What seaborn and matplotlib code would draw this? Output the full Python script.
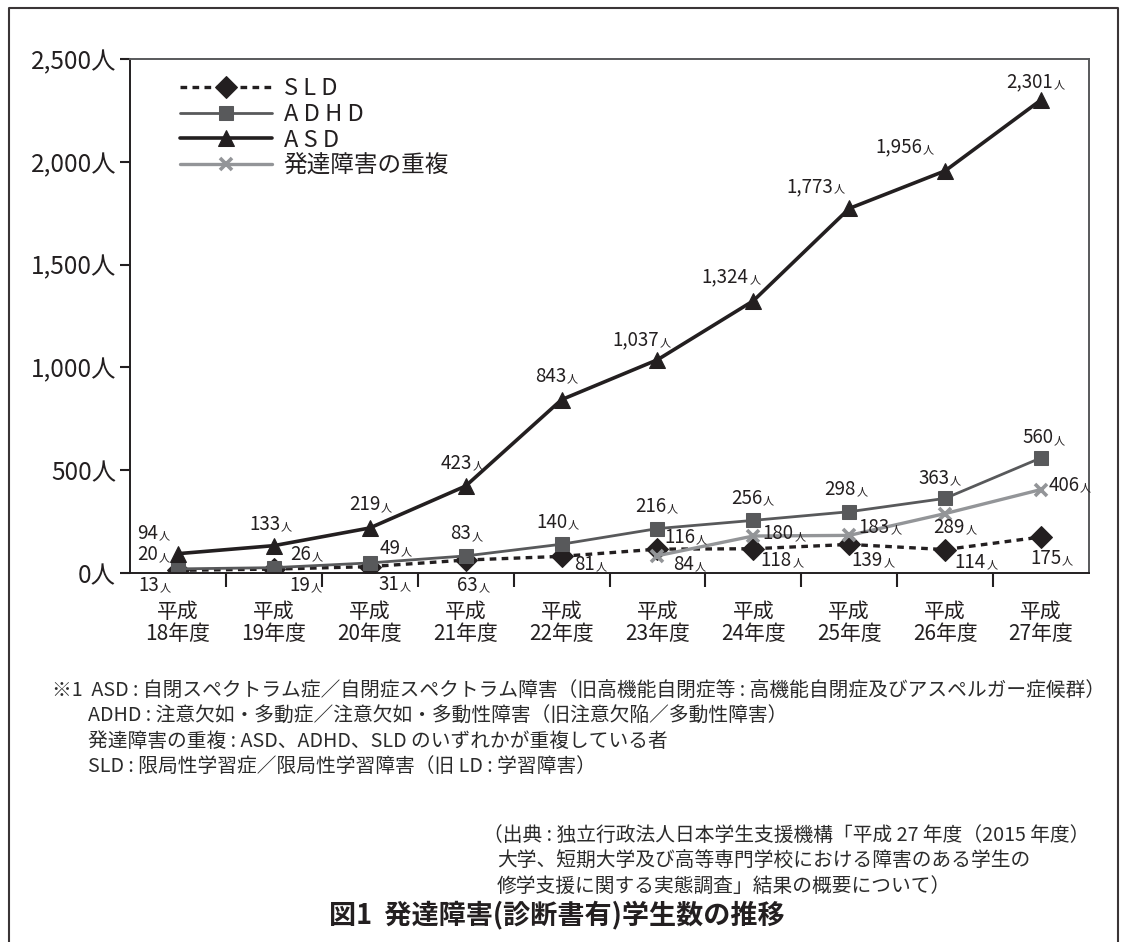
import numpy as np
import pandas as pd
import matplotlib
matplotlib.use("Agg")
import matplotlib.pyplot as plt
import seaborn as sns
from matplotlib.lines import Line2D

# ---------------- data ----------------
years = ["平成\n18年度", "平成\n19年度", "平成\n20年度", "平成\n21年度", "平成\n22年度",
         "平成\n23年度", "平成\n24年度", "平成\n25年度", "平成\n26年度", "平成\n27年度"]
sld = [13, 19, 31, 63, 81, 116, 118, 139, 114, 175]
adhd = [20, 26, 49, 83, 140, 216, 256, 298, 363, 560]
asd = [94, 133, 219, 423, 843, 1037, 1324, 1773, 1956, 2301]
overlap = [np.nan, np.nan, np.nan, np.nan, np.nan, 84, 180, 183, 289, 406]
series_names = ["S L D", "A D H D", "A S D", "発達障害の重複"]
yticks = [0, 500, 1000, 1500, 2000, 2500]

# label offsets in pixels (dx, dy) relative to each marker
off_sld = [(-24, -15), (31, -16), (24, -18), (7, -25), (28, -8), (27, 12), (28, -12), (23, -16), (30, -13), (10, -21)]
off_adhd = [(-25, 14), (32, 13), (25, 14), (0, 22), (-5, 22), (-2, 22), (-2, 22), (-4, 22), (-6, 20), (2, 20)]
off_asd = [(-25, 20), (-4, 21), (0, 23), (-4, 23), (-6, 23), (-17, 20), (-23, 24), (-34, 22), (-41, 24), (-6, 18)]
off_ovl = [None] * 5 + [(31, -9), (30, 2), (30, 8), (9, -14), (28, 4)]

# ---------------- style ----------------
sns.set_style("ticks")
plt.rcParams['font.family'] = ['Noto Sans CJK JP', 'DejaVu Sans']
DARK = "#231f20"
GRAY = "#58595b"
LGRAY = "#939598"

fig = plt.figure(figsize=(11.21, 9.42), dpi=100)
W, H = 1121, 942
ax = fig.add_axes([130 / W, 1 - 573 / H, (1089 - 130) / W, (573 - 59) / H])

x = np.arange(len(years))
df = pd.DataFrame({"x": x, "SLD": sld, "ADHD": adhd, "ASD": asd, "OVL": overlap})

sns.lineplot(data=df, x="x", y="SLD", ax=ax, color=DARK, lw=2.4, linestyle=(0, (2.0, 1.6)),
             marker="D", markersize=11, markeredgecolor=DARK, markerfacecolor=DARK, label=series_names[0])
sns.lineplot(data=df, x="x", y="ADHD", ax=ax, color=GRAY, lw=2.0,
             marker="s", markersize=10, markeredgecolor=GRAY, markerfacecolor=GRAY, label=series_names[1])
sns.lineplot(data=df, x="x", y="ASD", ax=ax, color=DARK, lw=2.6,
             marker="^", markersize=12, markeredgecolor=DARK, markerfacecolor=DARK, label=series_names[2])
sns.lineplot(data=df.dropna(), x="x", y="OVL", ax=ax, color=LGRAY, lw=2.4,
             marker="x", markersize=9, markeredgewidth=2.6, markeredgecolor=LGRAY, label=series_names[3])

ax.set_xlim(-0.5, len(years) - 0.5)
ax.set_ylim(0, 2500)
ax.set_xlabel("")
ax.set_ylabel("")

ax.set_xticks(x)
ax.set_xticklabels(years, fontsize=15, linespacing=1.0, color=DARK)
ax.tick_params(axis="x", which="major", length=0, pad=20)
ax.set_xticks(np.arange(0.5, len(years) - 1, 1.0), minor=True)
ax.tick_params(axis="x", which="minor", length=10, width=1.5, direction="out", color=DARK)
ax.set_yticks(yticks)
ax.set_yticklabels([f"{v:,}人" for v in yticks], fontsize=17.5, color=DARK)
ax.tick_params(axis="y", length=7, width=1.5, direction="out", pad=3, color=DARK)

for s in ax.spines.values():
    s.set_color(DARK)
    s.set_linewidth(1.4)
ax.spines["top"].set_color(GRAY)
ax.spines["right"].set_color(GRAY)


def add_label(xv, yv, dx, dy):
    t = ax.annotate(f"{int(yv):,}", xy=(xv, yv), xytext=(dx - 5, dy), textcoords="offset pixels",
                    ha="center", va="center", fontsize=13.5, color=DARK, zorder=5)
    ax.annotate("人", xy=(1, 0.12), xycoords=t, xytext=(0.3, 0), textcoords="offset points",
                ha="left", va="bottom", fontsize=8, color=DARK, zorder=5)


for vals, offs in [(sld, off_sld), (adhd, off_adhd), (asd, off_asd), (overlap, off_ovl)]:
    for i, v in enumerate(vals):
        if offs[i] is None or np.isnan(v):
            continue
        add_label(x[i], v, *offs[i])

leg = ax.legend(loc="upper left", bbox_to_anchor=(0.052, 0.965), frameon=False, fontsize=17,
                handlelength=3.9, handletextpad=0.5, labelspacing=0.12, borderpad=0, borderaxespad=0)
for txt in leg.get_texts():
    txt.set_color(DARK)

# outer frame
frame_col = "#3a3536"
fig.add_artist(Line2D([9 / W, 9 / W, 1118 / W, 1118 / W], [0, 1 - 8 / H, 1 - 8 / H, 0],
                      transform=fig.transFigure, color=frame_col, lw=1.5))

# footnotes
NOTE = "#2b2b2b"
fs_note = 14.2
def ftext(px, py, s, **kw):
    fig.text(px / W, 1 - py / H, s, ha="left", va="center", fontsize=fs_note, color=NOTE, **kw)

ftext(52, 690, "※1  ASD : 自閉スペクトラム症／自閉症スペクトラム障害（旧高機能自閉症等 : 高機能自閉症及びアスペルガー症候群）")
ftext(88, 716, "ADHD : 注意欠如・多動症／注意欠如・多動性障害（旧注意欠陥／多動性障害）")
ftext(88, 741, "発達障害の重複 : ASD、ADHD、SLD のいずれかが重複している者")
ftext(88, 767, "SLD : 限局性学習症／限局性学習障害（旧 LD : 学習障害）")
ftext(483, 835, "（出典 : 独立行政法人日本学生支援機構「平成 27 年度（2015 年度）")
ftext(497, 861, "大学、短期大学及び高等専門学校における障害のある学生の")
ftext(497, 886, "修学支援に関する実態調査」結果の概要について）")

fig.text(557 / W, 1 - 915 / H, "図1  発達障害(診断書有)学生数の推移", ha="center", va="center",
         fontsize=19.5, fontweight="bold", color=DARK)

fig.savefig("out.png", dpi=100)
